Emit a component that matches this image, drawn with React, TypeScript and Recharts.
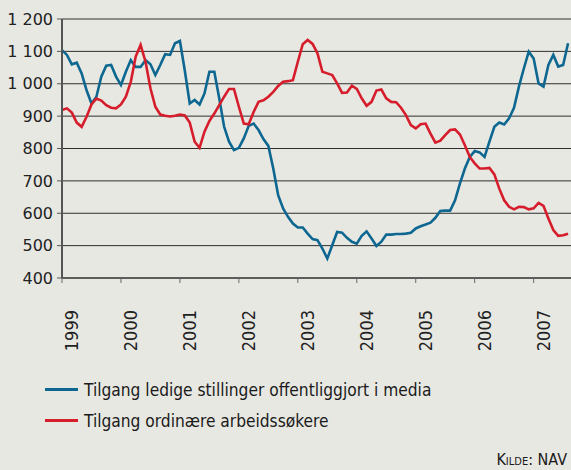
import { CartesianGrid, Line, LineChart, XAxis, YAxis } from "recharts";

// månedlige tall, januar 1999 - august 2007
const ledigeStillinger = [
  1104, 1089, 1060, 1065, 1032, 980, 939, 960, 1022, 1056, 1058, 1022,
  996, 1037, 1073, 1052, 1052, 1073, 1060, 1027, 1058, 1091, 1089, 1125,
  1132, 1040, 939, 950, 936, 970, 1037, 1037, 955, 867, 821, 795,
  802, 831, 870, 877, 857, 829, 808, 738, 656, 615, 589, 568,
  556, 556, 537, 520, 517, 491, 460, 501, 542, 540, 524, 512,
  506, 530, 544, 522, 499, 512, 534, 534, 536, 536, 537, 540,
  553, 560, 565, 571, 586, 607, 608, 608, 640, 692, 738, 774,
  792, 788, 774, 821, 867, 880, 874, 893, 926, 991, 1047, 1099,
  1078, 1001, 991, 1058, 1089, 1053, 1058, 1125,
];

const arbeidssokere = [
  919, 924, 911, 880, 867, 898, 936, 954, 948, 934, 926, 924,
  936, 960, 1006, 1084, 1120, 1068, 986, 929, 905, 901, 899, 901,
  905, 902, 880, 821, 802, 852, 885, 908, 934, 960, 984, 984,
  929, 877, 875, 913, 944, 949, 960, 975, 993, 1006, 1008, 1011,
  1068, 1122, 1135, 1123, 1094, 1037, 1032, 1027, 1001, 972, 973, 994,
  984, 955, 932, 944, 979, 982, 955, 944, 943, 926, 903, 872,
  862, 875, 877, 846, 818, 824, 841, 857, 859, 843, 810, 774,
  754, 738, 738, 740, 720, 676, 640, 620, 612, 620, 619, 612,
  615, 632, 623, 584, 548, 530, 532, 537,
];

const yearLabels = ["1999", "2000", "2001", "2002", "2003", "2004", "2005", "2006", "2007"];
const yearTicks = yearLabels.map((_, i) => i * 12);
const yTicks = [400, 500, 600, 700, 800, 900, 1000, 1100, 1200];

const BLUE = "#0d6790";
const RED = "#d61d2b";
const BG = "#e8e8e3";

const data = ledigeStillinger.map((v, i) => ({
  m: i,
  stillinger: v,
  sokere: arbeidssokere[i],
}));

function formatThousands(v: number) {
  const s = String(v);
  return s.length > 3 ? `${s.slice(0, -3)} ${s.slice(-3)}` : s;
}

function YearTick({ x, y, payload }: any) {
  const label = yearLabels[Math.round(payload.value / 12)];
  const tx = x + 16;
  const ty = y + 25;
  return (
    <text
      x={tx}
      y={ty}
      transform={`rotate(-90, ${tx}, ${ty})`}
      textAnchor="end"
      fontSize={18}
      fontFamily="'DejaVu Sans Condensed', 'DejaVu Sans', sans-serif"
      style={{ fontStretch: "condensed" }}
      fill="#222"
    >
      {label}
    </text>
  );
}

export default function App() {
  const legendFont = "'DejaVu Sans Condensed', 'Liberation Sans Narrow', sans-serif";
  return (
    <div
      style={{
        position: "relative",
        width: 571,
        height: 470,
        background: BG,
        overflow: "hidden",
      }}
    >
      <style>{`body{margin:0}`}</style>
      <LineChart
        width={571}
        height={350}
        data={data}
        margin={{ top: 19, right: 0, bottom: 0, left: 0 }}
      >
        <CartesianGrid vertical={false} stroke="#2e2e2e" strokeWidth={1} />
        <XAxis
          dataKey="m"
          type="number"
          domain={[0, 103.6]}
          ticks={yearTicks}
          height={72}
          tick={<YearTick />}
          tickSize={5}
          tickLine={{ stroke: "#666" }}
          axisLine={{ stroke: "#2e2e2e" }}
          interval={0}
        />
        <YAxis
          domain={[400, 1200]}
          ticks={yTicks}
          width={62}
          tickFormatter={formatThousands}
          tickSize={5}
          tickMargin={4}
          tickLine={{ stroke: "#555" }}
          axisLine={{ stroke: "#555", strokeWidth: 2 }}
          tick={{ fill: "#222", fontSize: 16, fontFamily: "'DejaVu Sans', sans-serif" }}
          interval={0}
        />
        <Line
          type="linear"
          dataKey="stillinger"
          stroke={BLUE}
          strokeWidth={2.6}
          dot={false}
          isAnimationActive={false}
        />
        <Line
          type="linear"
          dataKey="sokere"
          stroke={RED}
          strokeWidth={2.6}
          dot={false}
          isAnimationActive={false}
        />
      </LineChart>

      <div style={{ position: "absolute", left: 45, top: 374, fontFamily: legendFont, fontSize: 17.2, color: "#1a1a1a", fontStretch: "condensed" }}>
        <LegendRow color={BLUE} label="Tilgang ledige stillinger offentliggjort i media" />
        <LegendRow color={RED} label="Tilgang ordinære arbeidssøkere" />
      </div>

      <div
        style={{
          position: "absolute",
          right: 4,
          top: 450,
          fontFamily: legendFont,
          fontSize: 16,
          color: "#1a1a1a",
          fontVariant: "small-caps",
          fontStretch: "condensed",
        }}
      >
        Kilde: NAV
      </div>
    </div>
  );
}

function LegendRow({ color, label }: { color: string; label: string }) {
  return (
    <div style={{ display: "flex", alignItems: "center", height: 31 }}>
      <span style={{ display: "inline-block", width: 33, height: 3, background: color, marginRight: 6 }} />
      <span>{label}</span>
    </div>
  );
}
